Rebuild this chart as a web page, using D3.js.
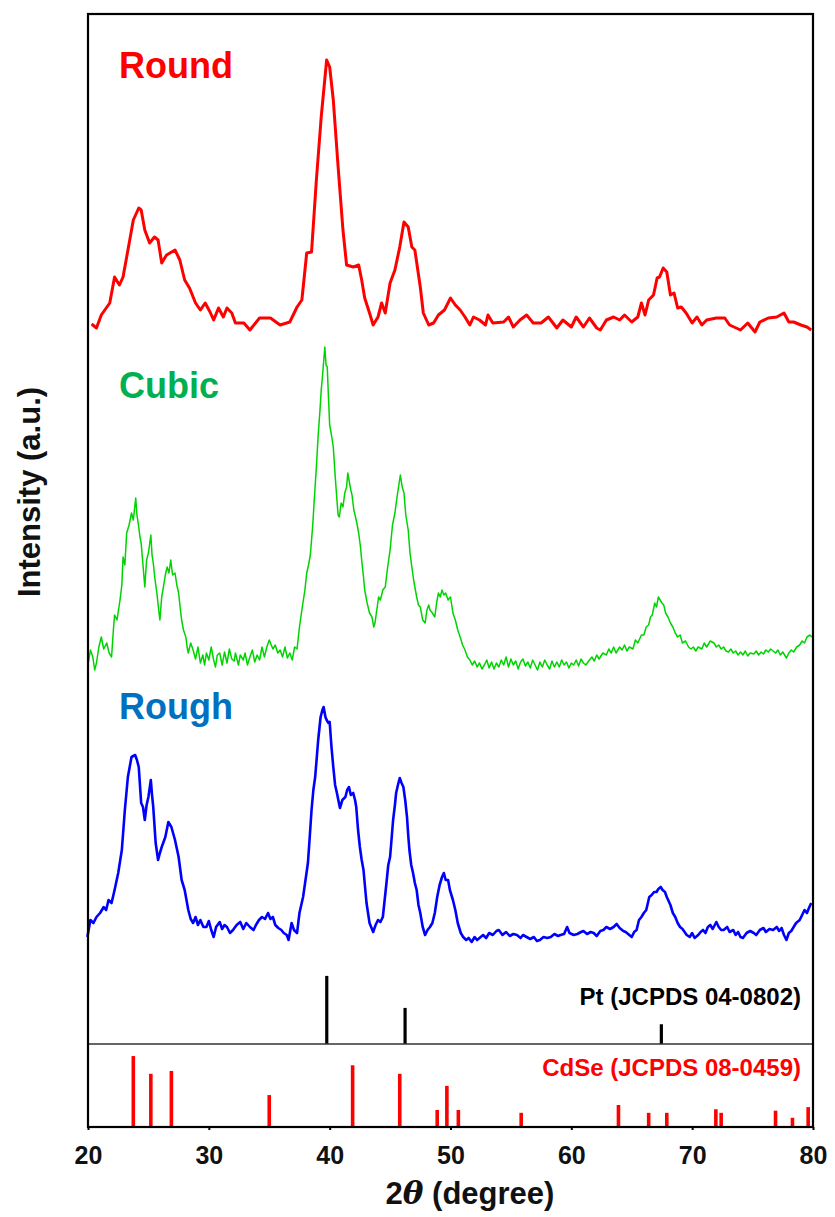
<!DOCTYPE html>
<html>
<head>
<meta charset="utf-8">
<script src="https://d3js.org/d3.v7.min.js"></script>
<style>
  body { margin: 0; background: #fff; }
  text { font-family: Arial, "Liberation Sans", sans-serif; font-weight: bold; }
</style>
</head>
<body>
<div id="chart"></div>
<script>
// XRD patterns (2theta in degrees, intensity in a.u., offsets included)
var roundData = [
  [20.3,641],[20.7,637],[21.1,650],[21.8,662],[22.2,688],[22.6,680],[22.9,688],[23.5,728],[23.75,745],
  [24.2,757],[24.4,755],[24.7,735],[25.1,722],[25.5,728],[25.8,725],[26.1,702],[26.5,710],[27.2,715],
  [27.6,705],[28.0,685],[28.4,677],[28.9,662],[29.3,655],[29.7,662],[30.1,653],[30.4,645],[30.8,657],
  [31.2,648],[31.5,657],[31.9,652],[32.2,642],[32.9,642],[33.4,635],[34.2,647],[35.1,647],[35.9,640],
  [36.7,643],[37.3,658],[37.7,665],[38.1,712],[38.5,713],[38.9,785],[39.3,848],[39.75,905],[40.0,898],
  [40.3,865],[40.7,798],[41.1,735],[41.4,700],[41.95,698],[42.4,700],[42.65,685],[42.9,667],[43.3,652],
  [43.6,640],[44.0,648],[44.3,662],[44.6,652],[45.0,682],[45.4,695],[45.8,718],[46.15,743],[46.5,738],
  [46.8,718],[47.05,715],[47.5,678],[47.75,652],[48.2,640],[48.6,642],[49.0,650],[49.5,655],[50.0,667],
  [50.4,660],[50.8,655],[51.2,648],[51.6,640],[51.9,648],[52.4,645],[52.9,640],[53.1,650],[53.5,642],
  [54.4,643],[54.8,648],[55.2,638],[55.75,645],[56.3,650],[56.85,642],[57.5,642],[58.1,648],[58.8,637],
  [59.3,645],[60.0,638],[60.4,648],[61.0,638],[61.5,647],[62.1,637],[62.4,635],[62.9,645],[63.5,648],
  [64.0,645],[64.4,650],[65.0,643],[65.5,648],[65.8,662],[66.1,650],[66.4,665],[66.8,670],[67.1,687],
  [67.3,688],[67.6,697],[67.9,693],[68.2,670],[68.5,672],[68.8,657],[69.1,658],[69.5,652],[70.0,642],
  [70.4,648],[70.8,640],[71.2,645],[72.0,647],[72.7,647],[73.1,640],[74.0,635],[74.6,642],[75.2,633],
  [75.6,643],[76.3,647],[77.0,648],[77.6,652],[78.0,643],[78.4,643],[79.0,640],[79.5,638],[79.85,635]
];

var cubicData = [
  [20.0,300],[20.2,315],[20.4,308],[20.55,295],[20.7,302],[20.9,318],[21.1,328],[21.3,316],[21.55,322],
  [21.75,312],[21.95,308],[22.1,335],[22.2,350],[22.4,345],[22.65,365],[22.8,380],[22.9,408],[23.05,400],
  [23.2,432],[23.4,440],[23.6,452],[23.75,445],[23.95,467],[24.05,450],[24.2,438],[24.3,428],[24.4,422],
  [24.55,400],[24.7,378],[24.85,405],[25.0,412],[25.2,430],[25.3,410],[25.4,402],[25.55,385],[25.7,372],
  [25.85,355],[25.95,345],[26.1,368],[26.2,375],[26.4,390],[26.55,398],[26.7,392],[26.85,405],[27.0,390],
  [27.2,392],[27.35,380],[27.5,372],[27.65,355],[27.75,345],[27.9,335],[28.1,328],[28.2,318],[28.3,312],
  [28.5,322],[28.7,315],[28.9,306],[29.1,318],[29.3,302],[29.5,310],[29.65,300],[29.8,312],[30.0,305],
  [30.2,318],[30.4,305],[30.55,298],[30.7,310],[30.9,312],[31.1,300],[31.3,313],[31.5,302],[31.7,316],
  [31.9,306],[32.1,304],[32.2,312],[32.45,300],[32.6,310],[32.85,305],[33.0,312],[33.2,300],[33.4,308],
  [33.6,315],[33.8,303],[34.0,310],[34.2,305],[34.4,318],[34.6,308],[34.8,318],[35.0,325],[35.1,322],
  [35.3,316],[35.5,320],[35.7,312],[35.9,315],[36.1,308],[36.3,318],[36.5,307],[36.7,312],[36.9,305],
  [37.1,318],[37.3,316],[37.5,338],[37.7,355],[37.95,375],[38.1,392],[38.25,400],[38.4,410],[38.5,425],
  [38.6,440],[38.75,470],[38.9,498],[39.05,530],[39.2,555],[39.3,575],[39.4,588],[39.5,603],[39.6,618],
  [39.7,600],[39.8,598],[39.9,568],[40.0,540],[40.15,530],[40.3,518],[40.45,490],[40.6,465],[40.7,450],
  [40.8,448],[40.95,462],[41.1,458],[41.25,472],[41.4,478],[41.5,492],[41.6,485],[41.75,475],[41.85,470],
  [42.0,455],[42.1,450],[42.25,442],[42.4,432],[42.55,418],[42.65,405],[42.8,388],[42.9,375],[43.1,362],
  [43.3,352],[43.5,348],[43.65,338],[43.75,342],[43.9,355],[44.05,368],[44.2,365],[44.4,375],[44.6,378],
  [44.8,398],[45.0,415],[45.2,440],[45.4,452],[45.6,470],[45.75,482],[45.85,490],[46.0,478],[46.15,472],
  [46.3,450],[46.5,435],[46.65,412],[46.8,398],[46.95,385],[47.05,378],[47.2,368],[47.35,360],[47.5,358],
  [47.7,345],[47.9,342],[48.05,355],[48.2,360],[48.3,355],[48.5,352],[48.7,348],[48.85,362],[49.0,372],
  [49.15,368],[49.3,375],[49.45,370],[49.6,372],[49.8,365],[50.0,368],[50.2,352],[50.4,345],[50.6,335],
  [50.8,328],[51.0,320],[51.2,315],[51.4,308],[51.6,305],[51.8,300],[52.0,304],[52.2,298],[52.4,302],
  [52.6,296],[52.8,300],[53.0,305],[53.2,297],[53.4,303],[53.6,296],[53.8,302],[54.0,298],[54.2,305],
  [54.4,300],[54.6,308],[54.8,298],[55.0,306],[55.2,300],[55.4,304],[55.6,296],[55.8,303],[56.0,306],
  [56.2,299],[56.4,303],[56.6,297],[56.8,305],[57.0,300],[57.2,295],[57.4,303],[57.6,298],[57.8,305],
  [58.0,300],[58.2,296],[58.4,304],[58.6,298],[58.8,303],[59.0,298],[59.2,305],[59.4,300],[59.6,303],
  [59.8,297],[60.0,302],[60.2,300],[60.4,305],[60.6,299],[60.8,306],[61.0,302],[61.2,300],[61.5,305],
  [61.7,308],[61.9,304],[62.1,310],[62.3,306],[62.6,312],[62.9,310],[63.1,316],[63.3,312],[63.5,318],
  [63.7,312],[64.0,318],[64.2,315],[64.4,320],[64.6,314],[64.8,318],[65.1,316],[65.3,325],[65.5,322],
  [65.8,330],[66.0,330],[66.2,338],[66.4,340],[66.55,348],[66.7,350],[66.9,362],[67.05,358],[67.2,368],
  [67.35,365],[67.5,362],[67.65,360],[67.8,352],[68.0,348],[68.2,342],[68.4,338],[68.6,332],[68.8,328],
  [69.0,330],[69.2,322],[69.45,324],[69.7,318],[69.9,316],[70.1,318],[70.3,314],[70.5,318],[70.8,316],
  [71.0,322],[71.2,318],[71.5,324],[71.8,322],[72.0,318],[72.2,320],[72.4,316],[72.6,318],[72.8,314],
  [73.0,313],[73.2,316],[73.4,312],[73.6,314],[73.8,310],[74.0,313],[74.2,310],[74.4,314],[74.6,309],
  [74.8,312],[75.1,311],[75.3,314],[75.5,310],[75.7,313],[75.9,311],[76.1,315],[76.3,313],[76.5,316],
  [76.7,314],[76.9,312],[77.1,315],[77.3,310],[77.5,313],[77.8,307],[78.0,312],[78.2,315],[78.4,313],
  [78.65,318],[78.9,320],[79.1,324],[79.3,322],[79.5,328],[79.75,330],[79.9,328]
];

var roughData = [
  [19.95,28],[20.2,45],[20.45,42],[20.7,48],[21.0,52],[21.3,58],[21.5,55],[21.7,65],[21.95,62],[22.2,75],
  [22.5,92],[22.8,115],[23.05,155],[23.3,188],[23.6,208],[23.9,210],[24.05,205],[24.2,198],[24.4,162],
  [24.55,158],[24.7,145],[24.85,160],[25.0,168],[25.2,185],[25.3,170],[25.4,158],[25.6,122],[25.8,105],
  [25.95,112],[26.1,118],[26.4,128],[26.65,143],[26.9,138],[27.2,125],[27.5,108],[27.75,85],[28.0,75],
  [28.3,55],[28.5,46],[28.7,42],[28.9,48],[29.1,40],[29.3,45],[29.55,38],[29.8,38],[30.0,44],[30.2,35],
  [30.4,28],[30.6,38],[30.9,43],[31.1,36],[31.3,40],[31.5,38],[31.75,32],[32.0,35],[32.3,40],[32.6,43],
  [32.85,36],[33.1,42],[33.4,38],[33.7,35],[33.9,40],[34.15,45],[34.4,48],[34.65,46],[34.9,52],[35.1,46],
  [35.3,48],[35.5,40],[35.75,37],[36.0,35],[36.2,32],[36.45,30],[36.6,25],[36.85,42],[37.05,35],[37.3,32],
  [37.5,52],[37.8,68],[38.0,85],[38.2,102],[38.35,128],[38.5,155],[38.65,175],[38.8,188],[38.95,210],
  [39.05,225],[39.25,248],[39.4,255],[39.5,258],[39.65,248],[39.75,245],[39.9,242],[40.0,243],[40.15,218],
  [40.3,198],[40.45,180],[40.6,172],[40.85,157],[41.05,165],[41.3,168],[41.45,175],[41.6,178],[41.75,170],
  [41.95,172],[42.1,165],[42.2,158],[42.35,135],[42.5,118],[42.65,105],[42.8,95],[42.95,75],[43.05,62],
  [43.3,42],[43.6,33],[43.8,40],[44.0,45],[44.2,43],[44.4,48],[44.55,65],[44.7,82],[44.85,100],[45.0,108],
  [45.15,130],[45.25,145],[45.4,160],[45.5,172],[45.65,180],[45.8,187],[45.95,182],[46.1,178],[46.25,165],
  [46.4,148],[46.5,130],[46.6,115],[46.75,100],[46.9,92],[47.05,82],[47.2,75],[47.35,60],[47.5,52],
  [47.7,38],[47.9,30],[48.1,35],[48.3,38],[48.5,42],[48.7,52],[48.9,68],[49.1,80],[49.3,88],[49.45,92],
  [49.6,85],[49.8,85],[49.95,75],[50.2,65],[50.4,55],[50.6,42],[50.85,32],[51.05,28],[51.3,25],[51.5,27],
  [51.75,23],[52.0,28],[52.2,25],[52.4,27],[52.7,30],[52.95,27],[53.2,32],[53.5,30],[53.8,34],[54.0,35],
  [54.3,30],[54.6,33],[54.9,29],[55.2,31],[55.5,30],[55.8,27],[56.0,30],[56.3,28],[56.6,26],[56.9,28],
  [57.15,24],[57.4,25],[57.7,28],[58.0,27],[58.3,28],[58.6,31],[58.9,29],[59.1,30],[59.4,31],[59.65,38],
  [59.85,32],[60.2,30],[60.5,31],[60.8,33],[61.0,34],[61.3,31],[61.6,33],[61.85,32],[62.1,29],[62.4,34],
  [62.65,35],[62.9,38],[63.2,36],[63.5,38],[63.75,41],[64.0,37],[64.3,34],[64.5,33],[64.8,30],[65.0,28],
  [65.2,33],[65.4,35],[65.6,45],[65.8,48],[66.0,52],[66.2,55],[66.45,68],[66.65,70],[66.85,73],[67.05,73],
  [67.2,76],[67.4,78],[67.55,75],[67.75,73],[67.9,68],[68.05,64],[68.2,60],[68.4,52],[68.6,48],[68.8,42],
  [69.0,38],[69.2,36],[69.55,30],[69.8,28],[70.0,32],[70.2,27],[70.5,30],[70.7,33],[70.9,35],[71.1,32],
  [71.3,38],[71.5,40],[71.7,36],[72.0,43],[72.2,38],[72.4,35],[72.6,35],[72.9,38],[73.1,33],[73.4,35],
  [73.6,30],[73.8,33],[74.0,28],[74.2,27],[74.5,32],[74.8,34],[75.1,32],[75.3,30],[75.6,35],[75.9,37],
  [76.1,33],[76.4,36],[76.7,35],[77.0,38],[77.2,34],[77.4,37],[77.6,30],[77.8,25],[78.0,32],[78.2,34],
  [78.4,38],[78.6,42],[78.9,45],[79.1,50],[79.3,55],[79.5,52],[79.7,58],[79.85,62]
];

// reference patterns
var ptPeaks = [39.76, 46.24, 67.45];
var ptIntensity = [100, 53, 29];

var cdsePeaks = [23.75, 25.2, 26.9, 35.0, 41.9, 45.8, 48.9, 49.7, 50.65, 55.85, 63.9, 66.4, 67.9, 71.96, 72.4, 76.9, 78.3, 79.6];
var cdseIntensity = [100, 75, 79, 45, 87, 75, 24, 58, 24, 20, 31, 20, 20, 25, 20, 23, 13, 28];

var xTicks = [20, 30, 40, 50, 60, 70, 80];

var svgWidth = 835;
var svgHeight = 1217;

var frame = { left: 88, right: 813, top: 14, bottom: 1127 };
var mainBottom = 965;
var ptBottom = 1044;

var svg = d3.select("#chart")
  .append("svg")
  .attr("width", svgWidth)
  .attr("height", svgHeight);

// scales
var xScale = d3.scaleLinear()
  .domain([20, 80])
  .range([frame.left, frame.right]);

var yMain = d3.scaleLinear()
  .domain([0, 951])
  .range([mainBottom, frame.top]);

var yPt = d3.scaleLinear()
  .domain([0, 116])
  .range([ptBottom, mainBottom]);

var yCdse = d3.scaleLinear()
  .domain([0, 117])
  .range([frame.bottom, ptBottom]);

var line = d3.line()
  .x(d => xScale(d[0]))
  .y(d => yMain(d[1]));

// patterns
var series = [
  { data: roundData, color: "#ff0000", width: 3 },
  { data: cubicData, color: "#00d400", width: 1.5 },
  { data: roughData, color: "#0000ff", width: 2.6 }
];

series.forEach(function(s) {
  svg.append("path")
    .datum(s.data)
    .attr("d", line)
    .attr("fill", "none")
    .attr("stroke", s.color)
    .attr("stroke-width", s.width)
    .attr("stroke-linejoin", "round");
});

// Pt sticks
svg.selectAll(".pt")
  .data(ptPeaks)
  .enter()
  .append("line")
  .attr("x1", d => xScale(d))
  .attr("x2", d => xScale(d))
  .attr("y1", yPt(0))
  .attr("y2", (d, i) => yPt(ptIntensity[i]))
  .attr("stroke", "#000")
  .attr("stroke-width", 3.2);

// CdSe sticks
svg.selectAll(".cdse")
  .data(cdsePeaks)
  .enter()
  .append("line")
  .attr("x1", d => xScale(d))
  .attr("x2", d => xScale(d))
  .attr("y1", yCdse(0))
  .attr("y2", (d, i) => yCdse(cdseIntensity[i]))
  .attr("stroke", "#ff0000")
  .attr("stroke-width", 3.6);

// divider between reference panels
svg.append("line")
  .attr("x1", frame.left)
  .attr("x2", frame.right)
  .attr("y1", ptBottom)
  .attr("y2", ptBottom)
  .attr("stroke", "#333")
  .attr("stroke-width", 1.5);

// frame
svg.append("rect")
  .attr("x", frame.left)
  .attr("y", frame.top)
  .attr("width", frame.right - frame.left)
  .attr("height", frame.bottom - frame.top)
  .attr("fill", "none")
  .attr("stroke", "#000")
  .attr("stroke-width", 2.2);

// bottom axis
var bottomAxis = d3.axisBottom(xScale)
  .tickValues(xTicks)
  .tickSize(3)
  .tickPadding(16)
  .tickFormat(d3.format("d"));

var axisG = svg.append("g")
  .attr("transform", `translate(0, ${frame.bottom})`)
  .call(bottomAxis);

axisG.select(".domain").remove();
axisG.selectAll("line").attr("stroke-width", 2);
axisG.selectAll("text")
  .attr("font-size", "25px")
  .attr("font-family", "Arial, 'Liberation Sans', sans-serif")
  .attr("font-weight", "bold")
  .attr("fill", "#111");

// sample labels
var labels = [
  { text: "Round", y: 78, color: "#ff0000" },
  { text: "Cubic", y: 398, color: "#00b050" },
  { text: "Rough", y: 719, color: "#0070c0" }
];

svg.selectAll(".label")
  .data(labels)
  .enter()
  .append("text")
  .attr("x", 119)
  .attr("y", d => d.y)
  .attr("font-size", "36px")
  .attr("fill", d => d.color)
  .text(d => d.text);

// reference labels
svg.append("text")
  .attr("x", 801)
  .attr("y", 1005)
  .attr("text-anchor", "end")
  .attr("font-size", "24px")
  .attr("fill", "#000")
  .text("Pt (JCPDS 04-0802)");

svg.append("text")
  .attr("x", 801)
  .attr("y", 1076)
  .attr("text-anchor", "end")
  .attr("font-size", "24px")
  .attr("fill", "#ff0000")
  .text("CdSe (JCPDS 08-0459)");

// axis titles
var xTitle = svg.append("text")
  .attr("x", 470)
  .attr("y", 1204)
  .attr("text-anchor", "middle")
  .attr("font-size", "31px")
  .attr("fill", "#111");
xTitle.append("tspan").text("2");
xTitle.append("tspan")
  .attr("font-family", "'DejaVu Serif', 'Liberation Serif', serif")
  .attr("font-style", "italic")
  .text("θ");
xTitle.append("tspan").text(" (degree)");

svg.append("text")
  .attr("transform", "translate(40, 492) rotate(-90)")
  .attr("text-anchor", "middle")
  .attr("font-size", "31px")
  .attr("fill", "#111")
  .text("Intensity (a.u.)");
</script>
</body>
</html>
